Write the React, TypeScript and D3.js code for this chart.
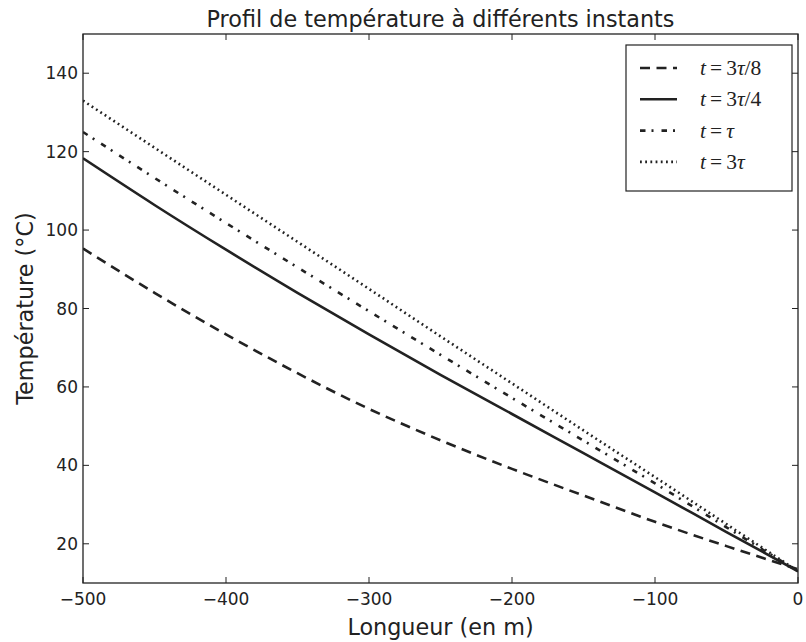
import * as d3 from 'd3';

const lengths = [-500, -450, -400, -350, -300, -250, -200, -150, -100, -50, 0];
const tempEighth = [95.3, 84.0, 73.4, 63.5, 54.4, 46.4, 39.1, 32.3, 25.6, 19.4, 13.5];
const tempQuarter = [118.3, 106.4, 95.0, 84.0, 73.4, 63.1, 53.1, 43.1, 33.1, 23.0, 13];
const tempTau = [125, 113.3, 101.8, 90.5, 79.3, 68.2, 57.2, 46.3, 35.4, 24.2, 13];
const tempThreeTau = [133, 121, 109, 97, 85, 72.9, 60.9, 48.9, 37, 25, 13];

const xTicks = [-500, -400, -300, -200, -100, 0];
const yTicks = [20, 40, 60, 80, 100, 120, 140];

const series = [
  { denom: '/8', coef: '3', values: tempEighth, dash: '10,6.5' },
  { denom: '/4', coef: '3', values: tempQuarter, dash: null },
  { denom: '', coef: '', values: tempTau, dash: '5.5,6,2,8' },
  { denom: '', coef: '3', values: tempThreeTau, dash: '1.8,3.4' },
];

const W = 806;
const H = 642;
const m = { left: 83, right: 8, top: 34, bottom: 59 };
const ink = '#222';

export default function App() {
  const x = d3.scaleLinear().domain([-500, 0]).range([m.left, W - m.right]);
  const y = d3.scaleLinear().domain([10, 150]).range([H - m.bottom, m.top]);
  const line = d3
    .line<number>()
    .x((_, i) => x(lengths[i]))
    .y((d) => y(d))
    .curve(d3.curveNatural);

  const fmt = (v: number) => (v < 0 ? '\u2212' + Math.abs(v) : String(v));
  const x0 = m.left;
  const x1 = W - m.right;
  const y0 = H - m.bottom;
  const y1 = m.top;

  return (
    <svg
      width={W}
      height={H}
      style={{ position: 'absolute', left: 0, top: 0, background: '#fff' }}
      fontFamily="DejaVu Sans, sans-serif"
    >
      <rect width={W} height={H} fill="#fff" />
      <text x={440.5} y={27} textAnchor="middle" fontSize={22.3} fill={ink}>
        Profil de température à différents instants
      </text>

      <clipPath id="plot">
        <rect x={x0} y={y1} width={x1 - x0} height={y0 - y1} />
      </clipPath>
      <g clipPath="url(#plot)">
        {series.map((s, i) => (
          <path
            key={i}
            d={line(s.values) ?? ''}
            fill="none"
            stroke={ink}
            strokeWidth={2.6}
            strokeDasharray={s.dash ?? undefined}
          />
        ))}
      </g>

      {xTicks.map((t) => (
        <g key={'x' + t}>
          <line x1={x(t)} x2={x(t)} y1={y0} y2={y0 - 6} stroke={ink} strokeWidth={1} />
          <line x1={x(t)} x2={x(t)} y1={y1} y2={y1 + 6} stroke={ink} strokeWidth={1} />
          <text x={x(t)} y={y0 + 22} textAnchor="middle" fontSize={17} fill={ink}>
            {fmt(t)}
          </text>
        </g>
      ))}
      {yTicks.map((t) => (
        <g key={'y' + t}>
          <line x1={x0} x2={x0 + 6} y1={y(t)} y2={y(t)} stroke={ink} strokeWidth={1} />
          <line x1={x1} x2={x1 - 6} y1={y(t)} y2={y(t)} stroke={ink} strokeWidth={1} />
          <text x={x0 - 5} y={y(t) + 6} textAnchor="end" fontSize={17} fill={ink}>
            {fmt(t)}
          </text>
        </g>
      ))}
      <rect x={x0} y={y1} width={x1 - x0} height={y0 - y1} fill="none" stroke={ink} strokeWidth={1.3} />

      <text x={440.5} y={635} textAnchor="middle" fontSize={22.3} fill={ink}>
        Longueur (en m)
      </text>
      <text transform={`translate(33,${(y0 + y1) / 2}) rotate(-90)`} textAnchor="middle" fontSize={22.3} fill={ink}>
        Température (°C)
      </text>

      <g>
        <rect x={626} y={45} width={166} height={146} fill="#fff" stroke={ink} strokeWidth={1.2} />
        {series.map((s, i) => {
          const ly = 68 + i * 31.3;
          return (
            <g key={'l' + i}>
              <line
                x1={640}
                x2={677}
                y1={ly}
                y2={ly}
                stroke={ink}
                strokeWidth={2.6}
                strokeDasharray={s.dash ?? undefined}
              />
              <text x={700} y={ly + 7} fontSize={21.5} fill={ink} fontFamily="Liberation Serif, DejaVu Serif, serif">
                <tspan fontStyle="italic">t</tspan>
                <tspan dx={4}>=</tspan>
                {s.coef ? <tspan dx={4}>{s.coef}</tspan> : null}
                <tspan dx={s.coef ? 0 : 4} fontStyle="italic">τ</tspan>
                {s.denom ? <tspan>{s.denom}</tspan> : null}
              </text>
            </g>
          );
        })}
      </g>
    </svg>
  );
}
